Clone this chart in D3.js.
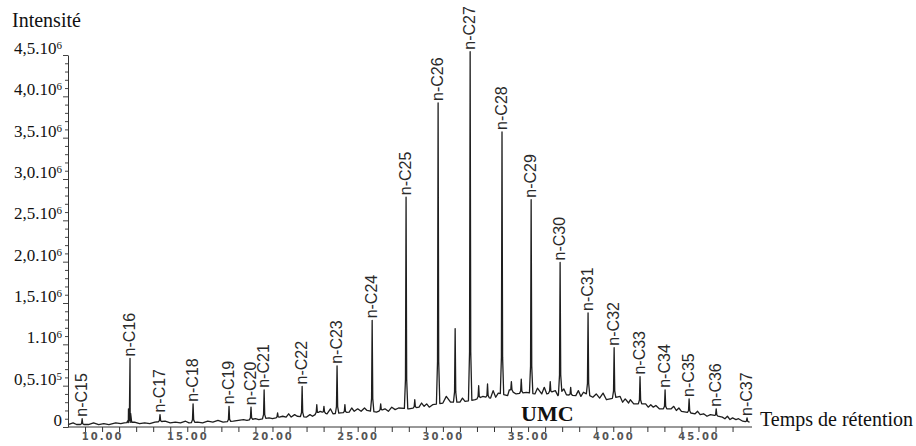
<!DOCTYPE html>
<html>
<head>
<meta charset="utf-8">
<script src="https://cdn.jsdelivr.net/npm/d3@7"></script>
<style>
  body { margin: 0; background: #fff; }
  .peak-label { font-family: "Liberation Sans", Arial, sans-serif; font-size: 16px; fill: #2a2a2a; }
  .serif { font-family: "Liberation Serif", "Times New Roman", serif; fill: #111; }
  .xlab { font-family: "DejaVu Sans", sans-serif; font-size: 10px; font-weight: bold; fill: #555; letter-spacing: 2px; }
</style>
</head>
<body>
<svg id="chart" width="916" height="446"></svg>
<script>
// n-alkane peaks (retention time in min, apex intensity in 10^6)
const peakNames = ['n-C15','n-C16','n-C17','n-C18','n-C19','n-C20','n-C21','n-C22','n-C23','n-C24','n-C25','n-C26',
  'n-C27','n-C28','n-C29','n-C30','n-C31','n-C32','n-C33','n-C34','n-C35','n-C36','n-C37'];
const peakTimes = [8.83, 11.64, 13.40, 15.34, 17.45, 18.74, 19.51, 21.74, 23.79, 25.85, 27.84, 29.72,
  31.60, 33.47, 35.18, 36.88, 38.52, 40.05, 41.57, 43.04, 44.45, 46.04, 47.85];
const peakHeights = [0.10, 0.83, 0.15, 0.28, 0.25, 0.24, 0.45, 0.49, 0.74, 1.29, 2.78, 3.92,
  4.54, 3.57, 2.75, 1.99, 1.38, 0.96, 0.61, 0.45, 0.34, 0.22, 0.11];

// other unlabelled peaks
const otherTimes = [11.55, 20.30, 22.60, 23.02, 24.25, 26.35, 28.35, 30.72, 32.10, 32.62, 34.02, 34.60, 36.30, 37.50];
const otherHeights = [0.22, 0.17, 0.27, 0.25, 0.27, 0.28, 0.33, 1.19, 0.50, 0.52, 0.55, 0.58, 0.55, 0.48];

// baseline / UMC hump with its noise
const baseTimes = [8.0, 8.3, 8.5, 9.2, 9.5, 9.8, 10.1, 10.4, 10.8, 11.1, 11.3, 11.9, 12.2, 12.5, 12.8, 13.1,
  13.7, 14.0, 14.3, 14.6, 14.9, 15.1, 15.6, 15.9, 16.2, 16.5, 16.8, 17.1, 17.7, 18.0, 18.3, 18.5, 19.0, 19.2,
  19.8, 20.0, 20.6, 20.8, 20.95, 21.1, 21.3, 21.45, 22.0, 22.2, 22.35, 22.8, 23.2, 23.4, 23.55, 24.0, 24.5,
  24.65, 24.8, 25.0, 25.2, 25.4, 25.55, 26.1, 26.6, 26.8, 27.0, 27.2, 27.4, 28.0, 28.6, 28.75, 28.9, 29.05,
  29.2, 29.4, 30.0, 30.2, 30.45, 31.0, 31.15, 31.3, 31.9, 32.35, 32.8, 32.95, 33.1, 33.25, 33.8, 33.9, 34.3,
  34.9, 35.4, 35.55, 35.8, 35.95, 36.1, 36.6, 36.75, 37.1, 37.25, 37.8, 37.95, 38.1, 38.25, 38.8, 39.0, 39.2,
  39.4, 39.6, 40.4, 40.55, 40.7, 40.9, 41.0, 41.2, 41.9, 42.05, 42.2, 42.35, 42.5, 42.7, 43.4, 43.55, 43.7,
  43.85, 44.0, 44.8, 44.95, 45.1, 45.3, 45.5, 45.7, 46.4, 46.55, 46.7, 46.85, 47.0, 47.2, 47.35, 47.6, 48.0];
const baseValues = [0.03, 0.05, 0.03, 0.03, 0.05, 0.03, 0.04, 0.03, 0.05, 0.04, 0.05, 0.06, 0.04, 0.05, 0.04, 0.06,
  0.07, 0.05, 0.06, 0.05, 0.07, 0.05, 0.06, 0.05, 0.07, 0.06, 0.08, 0.06, 0.07, 0.08, 0.09, 0.08, 0.10, 0.09,
  0.11, 0.10, 0.13, 0.12, 0.16, 0.12, 0.15, 0.13, 0.12, 0.15, 0.13, 0.19, 0.16, 0.22, 0.16, 0.17, 0.18,
  0.23, 0.19, 0.22, 0.19, 0.23, 0.20, 0.18, 0.22, 0.19, 0.24, 0.21, 0.23, 0.22, 0.24, 0.29, 0.25, 0.28,
  0.24, 0.27, 0.29, 0.37, 0.30, 0.30, 0.35, 0.31, 0.33, 0.37, 0.35, 0.44, 0.36, 0.41, 0.38, 0.45, 0.40,
  0.42, 0.40, 0.47, 0.40, 0.48, 0.40, 0.44, 0.38, 0.46, 0.39, 0.38, 0.44, 0.37, 0.42, 0.36, 0.40, 0.35,
  0.41, 0.33, 0.37, 0.30, 0.34, 0.29, 0.33, 0.28, 0.28, 0.24, 0.27, 0.24, 0.26, 0.22, 0.22, 0.25, 0.20,
  0.23, 0.19, 0.16, 0.19, 0.15, 0.16, 0.13, 0.15, 0.12, 0.10, 0.13, 0.09, 0.11, 0.09, 0.10, 0.07, 0.06];

const yTickValues = [0, 0.5, 1, 1.5, 2, 2.5, 3, 3.5, 4, 4.5];
const yTickMain = ['0', '0,5.10', '1.10', '1,5.10', '2,0.10', '2,5.10', '3,0.10', '3,5.10', '4,0.10', '4,5.10'];
const yTickExp = ['', '5', '6', '6', '6', '6', '6', '6', '6', '6'];
const xTickValues = [10, 15, 20, 25, 30, 35, 40, 45];

const svg = d3.select('#chart');
const x = d3.scaleLinear().domain([8, 48]).range([68, 749.6]);
const y = d3.scaleLinear().domain([0, 4.5]).range([427, 55]);

// baseline lookup to sit the peaks on the hump
const baseAt = d3.scaleLinear().domain(baseTimes).range(baseValues).clamp(true);

let pts = baseTimes.map(function (t, i) { return [t, baseValues[i]]; });
const allPeaks = peakTimes.map(function (t, i) { return [t, peakHeights[i]]; })
  .concat(otherTimes.map(function (t, i) { return [t, otherHeights[i]]; }));
const hw = 0.1;
pts = pts.filter(function (p) {
  return !allPeaks.some(function (k) { return Math.abs(p[0] - k[0]) < hw; });
});
allPeaks.forEach(function (k) {
  const b = baseAt(k[0]);
  const sh = b + (k[1] - b) * 0.14;
  pts.push([k[0] - hw, baseAt(k[0] - hw)]);
  pts.push([k[0] - 0.035, sh]);
  pts.push([k[0], k[1]]);
  pts.push([k[0] + 0.035, sh]);
  pts.push([k[0] + hw, baseAt(k[0] + hw)]);
});
pts.sort(function (a, b) { return a[0] - b[0]; });

const line = d3.line().x(function (d) { return x(d[0]); }).y(function (d) { return y(d[1]); });

svg.append('path')
  .datum(pts)
  .attr('d', line)
  .attr('fill', 'none')
  .attr('stroke', '#1e1e1e')
  .attr('stroke-width', 1.3)
  .attr('stroke-linejoin', 'round');

// x axis
const xAxis = d3.axisBottom(x)
  .tickValues(d3.range(9, 48))
  .tickSize(5)
  .tickSizeOuter(0)
  .tickFormat(function (d) { return xTickValues.indexOf(d) >= 0 ? d3.format('.2f')(d) : ''; });
const gx = svg.append('g').attr('transform', 'translate(0,' + y(0) + ')').call(xAxis);
gx.select('.domain').attr('stroke', '#333').attr('d', 'M' + x(8) + ',0H752');
gx.selectAll('.tick line').attr('stroke', '#333');
gx.selectAll('.tick text').attr('class', 'xlab').attr('dy', '0.55em').attr('y', 7);

// y axis with minor ticks
const yAxis = d3.axisLeft(y)
  .tickValues(d3.range(0, 46).map(function (i) { return i / 10; }))
  .tickSize(3)
  .tickSizeOuter(0)
  .tickFormat('');
const gy = svg.append('g').attr('transform', 'translate(' + x(8) + ',0)').call(yAxis);
gy.select('.domain').attr('stroke', '#333');
gy.selectAll('.tick line').attr('stroke', '#444')
  .attr('x2', function (d) { return Math.abs(d * 2 - Math.round(d * 2)) < 1e-6 ? -5 : -3; });

const ylab = svg.append('g').selectAll('text')
  .data(yTickValues)
  .enter().append('text')
  .attr('class', 'serif')
  .attr('x', 62)
  .attr('y', function (d) { return y(d) - 1; })
  .attr('text-anchor', 'end')
  .style('font-size', '17px');
ylab.append('tspan').text(function (d, i) { return yTickMain[i]; });
ylab.append('tspan')
  .attr('dy', '-0.45em')
  .style('font-size', '11px')
  .text(function (d, i) { return yTickExp[i]; });

// peak labels
svg.append('g').selectAll('text')
  .data(peakNames)
  .enter().append('text')
  .attr('class', 'peak-label')
  .attr('transform', function (d, i) {
    return 'translate(' + (x(peakTimes[i]) + 5) + ',' + (y(peakHeights[i]) - 2) + ') rotate(-90)';
  })
  .text(function (d) { return d; });

// titles
svg.append('text').attr('class', 'serif').attr('x', 12).attr('y', 27)
  .style('font-size', '20px').text('Intensité');
svg.append('text').attr('class', 'serif').attr('x', 760).attr('y', 426)
  .style('font-size', '20px').text('Temps de rétention');
svg.append('text').attr('class', 'serif').attr('x', 521).attr('y', 421)
  .style('font-size', '22px').style('font-weight', 'bold').text('UMC');
</script>
</body>
</html>
